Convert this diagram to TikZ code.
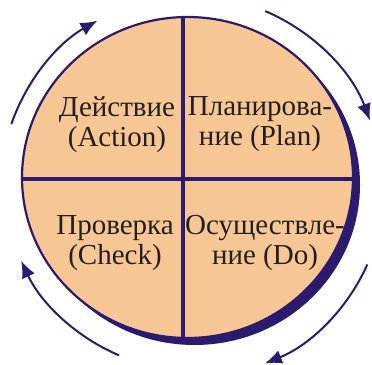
\documentclass[tikz,border=0pt]{standalone}
\usepackage{fontspec}
\setmainfont{Liberation Serif}
\usetikzlibrary{arrows.meta}
\definecolor{ink}{HTML}{2B1A6E}
\definecolor{peach}{HTML}{F6C795}
\definecolor{textgray}{HTML}{231F20}

\begin{document}
\begin{tikzpicture}[x=1pt,y=1pt,>={Latex[length=17pt,width=14pt]},
    cyclearrow/.style={->,ink,line width=2pt},
    divider/.style={ink,line width=3.2pt},
    quadtext/.style={align=center,text=textgray,font=\fontsize{29}{30}\selectfont,inner sep=0pt}]
        \useasboundingbox (0,0) rectangle (372,364);
        \coordinate (hub) at (187.5,186.5);
        \coordinate (ring) at (191,178);
        \fill[ink] ([shift={(7,-7)}]hub) ellipse [x radius=165.5,y radius=160.5];
        \fill[peach] (hub) ellipse [x radius=165.5,y radius=160.5];
        \begin{scope}
            \clip (hub) ellipse [x radius=165.5,y radius=160.5];
            \draw[divider] (183,0) -- (183,364);
            \draw[divider] (0,185) -- (372,185);
        \end{scope}
        \draw[ink,line width=2.2pt] (hub) ellipse [x radius=165.5,y radius=160.5];
        \node[quadtext] (act) at (117,239.5) {Действие\\(Action)};
        \node[quadtext] (plan) at (260,239.5) {Планирова-\\ние (Plan)};
        \node[quadtext] (check) at (115,121) {Проверка\\(Check)};
        \node[quadtext] (do) at (265,121) {Осуществле-\\ние (Do)};
        \draw[cyclearrow] (ring) ++(161:190) arc [start angle=161,end angle=119.5,radius=190];
        \draw[cyclearrow] (ring) ++(67:190) arc [start angle=67,end angle=20.5,radius=192];
        \draw[cyclearrow] (ring) ++(-24:193) arc [start angle=-24,end angle=-68,radius=190];
        \draw[cyclearrow] (ring) ++(-113:184) arc [start angle=-113,end angle=-155,radius=190];
    \end{tikzpicture}
\end{document}
